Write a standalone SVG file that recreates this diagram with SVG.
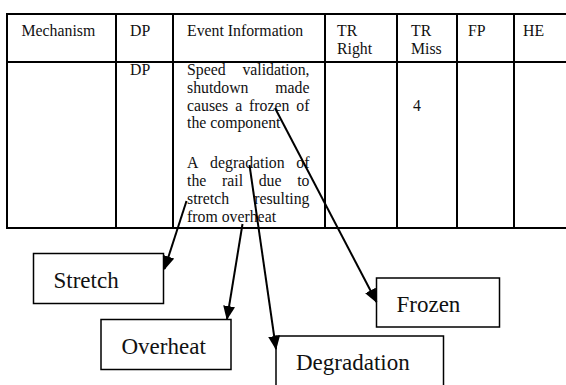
<svg xmlns="http://www.w3.org/2000/svg" width="566" height="385" viewBox="0 0 566 385">
  <style>
    .cell { font-family: "Liberation Serif", "Times New Roman", serif; font-size: 15.8px; fill: #111; }
    .label { font-family: "Liberation Serif", "Times New Roman", serif; font-size: 23px; fill: #111; }
    .grid { stroke: #000; stroke-width: 2; fill: none; }
    .box { stroke: #000; stroke-width: 1.5; fill: #fff; }
    .link { stroke: #000; stroke-width: 2; fill: none; marker-end: url(#head); }
  </style>
  <defs>
    <marker id="head" viewBox="0 0 14 12" refX="13" refY="6" markerWidth="14" markerHeight="12" markerUnits="userSpaceOnUse" orient="auto">
      <path d="M0,0 L14,6 L0,12 z" fill="#000"/>
    </marker>
  </defs>

  <rect width="566" height="385" fill="#fff"/>

  <!-- table grid -->
  <g id="table">
    <path class="grid" d="M7,14 H568 M7,62 H568 M7,228 H568 M7,13 V229 M116,14 V228 M173,14 V228 M325,14 V228 M397,14 V228 M457,14 V228 M514,14 V228"/>
    <!-- header row -->
    <text class="cell" x="21.5" y="36">Mechanism</text>
    <text class="cell" x="130" y="36">DP</text>
    <text class="cell" x="187" y="36">Event Information</text>
    <text class="cell" x="337" y="36">TR</text>
    <text class="cell" x="337" y="54">Right</text>
    <text class="cell" x="411" y="36">TR</text>
    <text class="cell" x="411" y="54">Miss</text>
    <text class="cell" x="468" y="36">FP</text>
    <text class="cell" x="523" y="36">HE</text>
    <!-- data row -->
    <text class="cell" x="130" y="74.5">DP</text>
    <text class="cell" x="413" y="110.5">4</text>
    <!-- justified paragraph, word by word -->
    <text class="cell" x="187" y="74.5">Speed</text>
    <text class="cell" x="309.5" y="74.5" text-anchor="end">validation,</text>
    <text class="cell" x="187" y="92.5">shutdown</text>
    <text class="cell" x="309.5" y="92.5" text-anchor="end">made</text>
    <text class="cell" y="110.5"><tspan x="187">causes</tspan><tspan x="235.2">a</tspan><tspan x="249.1">frozen</tspan><tspan x="296.3">of</tspan></text>
    <text class="cell" x="187" y="128">the component</text>
    <text class="cell" y="168"><tspan x="187">A</tspan><tspan x="210.1">degradation</tspan><tspan x="296.3">of</tspan></text>
    <text class="cell" y="185.5"><tspan x="187">the</tspan><tspan x="222">rail</tspan><tspan x="258.7">due</tspan><tspan x="297.2">to</tspan></text>
    <text class="cell" x="187" y="203.5">stretch</text>
    <text class="cell" x="309.5" y="203.5" text-anchor="end">resulting</text>
    <text class="cell" x="187" y="221.5">from overheat</text>
  </g>

  <!-- nodes -->
  <g id="stretch">
    <rect class="box" x="33.5" y="253.5" width="130" height="50"/>
    <text class="label" x="53.5" y="288">Stretch</text>
  </g>
  <g id="overheat">
    <rect class="box" x="101" y="319.5" width="130" height="50"/>
    <text class="label" x="121.5" y="353.5">Overheat</text>
  </g>
  <g id="frozen">
    <rect class="box" x="376.5" y="278" width="123" height="49"/>
    <text class="label" x="396.5" y="311.5">Frozen</text>
  </g>
  <g id="degradation">
    <rect class="box" x="276" y="336" width="167.5" height="60"/>
    <text class="label" x="296" y="370">Degradation</text>
  </g>

  <!-- connectors -->
  <g id="connectors">
    <line class="link" x1="186.5" y1="201" x2="164.5" y2="269"/>
    <line class="link" x1="242.5" y1="224" x2="227" y2="319"/>
    <line class="link" x1="249.5" y1="165" x2="276" y2="349"/>
    <line class="link" x1="275" y1="108" x2="376.5" y2="302"/>
  </g>
</svg>
